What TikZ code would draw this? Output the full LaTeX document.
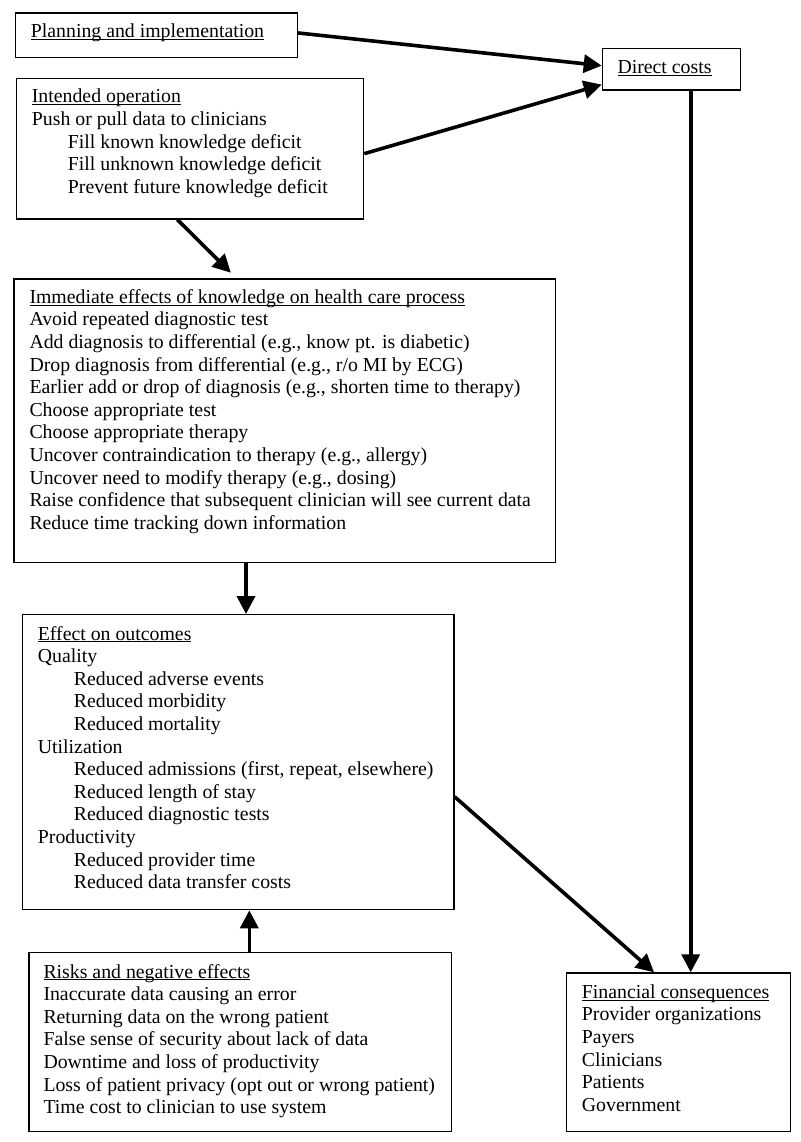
\documentclass[tikz,border=0pt]{standalone}
\usepackage{fontspec}
\setmainfont{Liberation Serif}
\usetikzlibrary{arrows.meta,calc}
\newsavebox\ulsave
\newcommand\ulx[1]{\leavevmode\sbox\ulsave{#1}\rlap{\rule[-2.4pt]{\wd\ulsave}{1.1pt}}\usebox\ulsave}
\newcommand\ind{\hspace*{36pt}}
\begin{document}
\begin{tikzpicture}[x=1pt,y=-1pt,
  boxst/.style={draw=black, line width=1.3pt, rectangle, inner sep=0pt, anchor=north west},
  txt/.style={anchor=base west, inner sep=0pt, font=\fontsize{19.8pt}{22.6pt}\selectfont},
  conn/.style={line width=3.6pt, -{Triangle[length=18pt,width=18pt]}}]
\useasboundingbox (0,0) rectangle (800,1142);
\fill[white] (0,0) rectangle (800,1142);
% boxes
\node[boxst, minimum width=282pt, minimum height=44.4pt] (plan) at (14.7,12.3) {};
\node[boxst, minimum width=347pt, minimum height=140.6pt] (int) at (16,77.7) {};
\node[boxst, minimum width=138.3pt, minimum height=41.6pt] (direct) at (601.7,47.7) {};
\node[boxst, minimum width=541.7pt, minimum height=283.4pt] (imm) at (13.3,278.3) {};
\node[boxst, minimum width=431.3pt, minimum height=295pt] (eff) at (22,614) {};
\node[boxst, minimum width=422.4pt, minimum height=179.3pt] (risk) at (28.3,951.7) {};
\node[boxst, minimum width=224pt, minimum height=158.7pt] (fin) at (566,972.3) {};
% texts
\node[txt] (plant) at (30.7,38) {\ulx{Planning and implementation}};
\node[txt] (intt) at (31.7,103) {\parbox[t]{320pt}{\raggedright
\ulx{Intended operation}\\
Push or pull data to clinicians\\
\ind Fill known knowledge deficit\\
\ind Fill unknown knowledge deficit\\
\ind Prevent future knowledge deficit}};
\node[txt] (directt) at (617.3,74) {\ulx{Direct costs}};
\node[txt] (immt) at (29.3,303.3) {\parbox[t]{520pt}{\raggedright
\ulx{Immediate effects of knowledge on health care process}\\
Avoid repeated diagnostic test\\
Add diagnosis to differential (e.g., know pt. is diabetic)\\
Drop diagnosis from differential (e.g., r/o MI by ECG)\\
Earlier add or drop of diagnosis (e.g., shorten time to therapy)\\
Choose appropriate test\\
Choose appropriate therapy\\
Uncover contraindication to therapy (e.g., allergy)\\
Uncover need to modify therapy (e.g., dosing)\\
Raise confidence that subsequent clinician will see current data\\
Reduce time tracking down information}};
\node[txt] (efft) at (37.7,640) {\parbox[t]{410pt}{\raggedright
\ulx{Effect on outcomes}\\
Quality\\
\ind Reduced adverse events\\
\ind Reduced morbidity\\
\ind Reduced mortality\\
Utilization\\
\ind Reduced admissions (first, repeat, elsewhere)\\
\ind Reduced length of stay\\
\ind Reduced diagnostic tests\\
Productivity\\
\ind Reduced provider time\\
\ind Reduced data transfer costs}};
\node[txt] (riskt) at (43.3,978) {\parbox[t]{405pt}{\raggedright
\ulx{Risks and negative effects}\\
Inaccurate data causing an error\\
Returning data on the wrong patient\\
False sense of security about lack of data\\
Downtime and loss of productivity\\
Loss of patient privacy (opt out or wrong patient)\\
Time cost to clinician to use system}};
\node[txt] (fint) at (581.7,998.3) {\parbox[t]{205pt}{\raggedright
\ulx{Financial consequences}\\
Provider organizations\\
Payers\\
Clinicians\\
Patients\\
Government}};
% helper coordinates
\coordinate (xa) at (246,0);
\coordinate (xb) at (249.3,0);
\coordinate (xc) at (654,0);
\coordinate (xd) at (690.7,0);
\coordinate (ya) at (0,796.7);
% connectors
\draw[conn] ([yshift=2.2pt]plan.east) -- ([yshift=3.5pt]direct.west);
\draw[conn] ([yshift=-5pt]int.east) -- ([yshift=6pt]direct.south west);
\draw[conn] ([xshift=-12.8pt]int.south) -- ([xshift=-54pt,yshift=5.6pt]imm.north);
\draw[conn] (imm.south -| xa) -- (eff.north -| xa);
\draw[conn] (risk.north -| xb) -- (eff.south -| xb);
\draw[conn] (eff.east |- ya) -- (fin.north -| xc);
\draw[conn] (direct.south -| xd) -- (fin.north -| xd);
\end{tikzpicture}
\end{document}
